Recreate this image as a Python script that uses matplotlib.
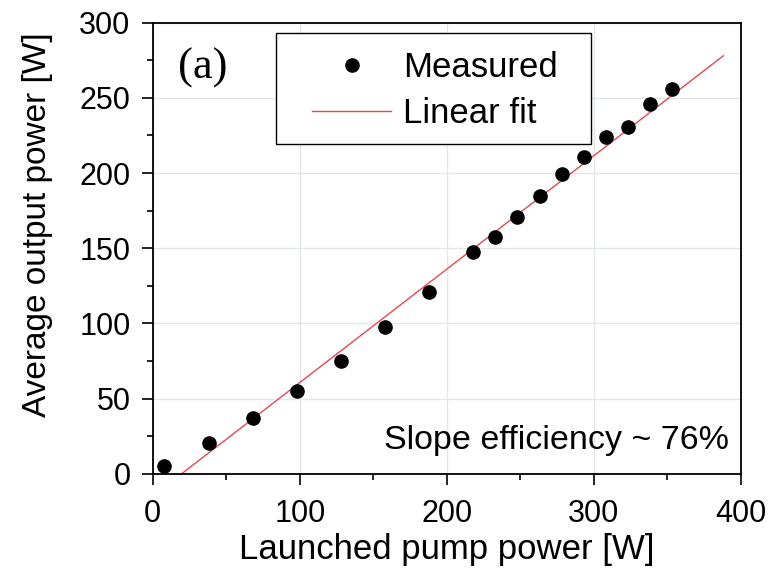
import numpy as np
import matplotlib.pyplot as plt
from matplotlib.ticker import MultipleLocator
from matplotlib.patches import Rectangle

# measured points
pump_power = [8, 38, 68, 98, 128, 158, 188, 218, 233, 248, 263, 278, 293, 308, 323, 338, 353]
output_power = [5.2, 20.4, 37, 54.8, 75.2, 97.5, 121, 147.3, 157.3, 171, 184.8, 199.4, 210.5, 224, 230.7, 245.8, 255.8]

# linear fit end points
fit_x = [19.7, 388]
fit_y = [0, 278]

plt.rcParams['font.family'] = ['Liberation Sans', 'DejaVu Sans']

fig = plt.figure(figsize=(7.72, 5.73), dpi=100)
ax = fig.add_axes([152.7/772, 1 - 473.7/573, 588.3/772, 451/573])

ax.grid(True, which='major', color='#e2e8e2', lw=1.0, zorder=0)
ax.plot(pump_power, output_power, 'o', color='black', ms=9.5, label='Measured', zorder=3)
ax.plot(fit_x, fit_y, '-', color='#e34a4f', lw=1.0, label='Linear fit', zorder=2)

ax.set_xlim(0, 400)
ax.set_ylim(0, 300)
ax.xaxis.set_major_locator(MultipleLocator(100))
ax.xaxis.set_minor_locator(MultipleLocator(50))
ax.yaxis.set_major_locator(MultipleLocator(50))
ax.yaxis.set_minor_locator(MultipleLocator(25))
ax.tick_params(which='major', direction='out', length=8, width=1.2, labelsize=22)
ax.tick_params(axis='x', which='major', pad=10)
ax.tick_params(axis='y', which='major', pad=8)
ax.tick_params(which='minor', direction='out', length=4.5, width=1.2)
for s in ax.spines.values():
    s.set_linewidth(1.3)

ax.set_xlabel('Launched pump power [W]', fontsize=25, labelpad=3)
ax.set_ylabel('Average output power [W]', fontsize=24)
ax.yaxis.set_label_coords(-0.169, 0.553)

ax.text(0.043, 0.945, '(a)', transform=ax.transAxes, fontsize=32,
        family=['Liberation Serif'], ha='left', va='top')
ax.text(0.98, 0.04, 'Slope efficiency ~ 76%', transform=ax.transAxes,
        fontsize=24.5, ha='right', va='bottom')

# legend box drawn separately so its padding matches the original
ax.add_patch(Rectangle((0.2096, 0.731), 0.5354, 0.246, transform=ax.transAxes,
                       facecolor='white', edgecolor='black', lw=1.0, zorder=4))
leg = ax.legend(loc='center left', bbox_to_anchor=(0.271, 0.849), fontsize=25,
                frameon=False, handlelength=2.28, handletextpad=0.33,
                borderpad=0, borderaxespad=0, labelspacing=0.37)
leg.set_zorder(5)

fig.savefig('out.png', dpi=100)
